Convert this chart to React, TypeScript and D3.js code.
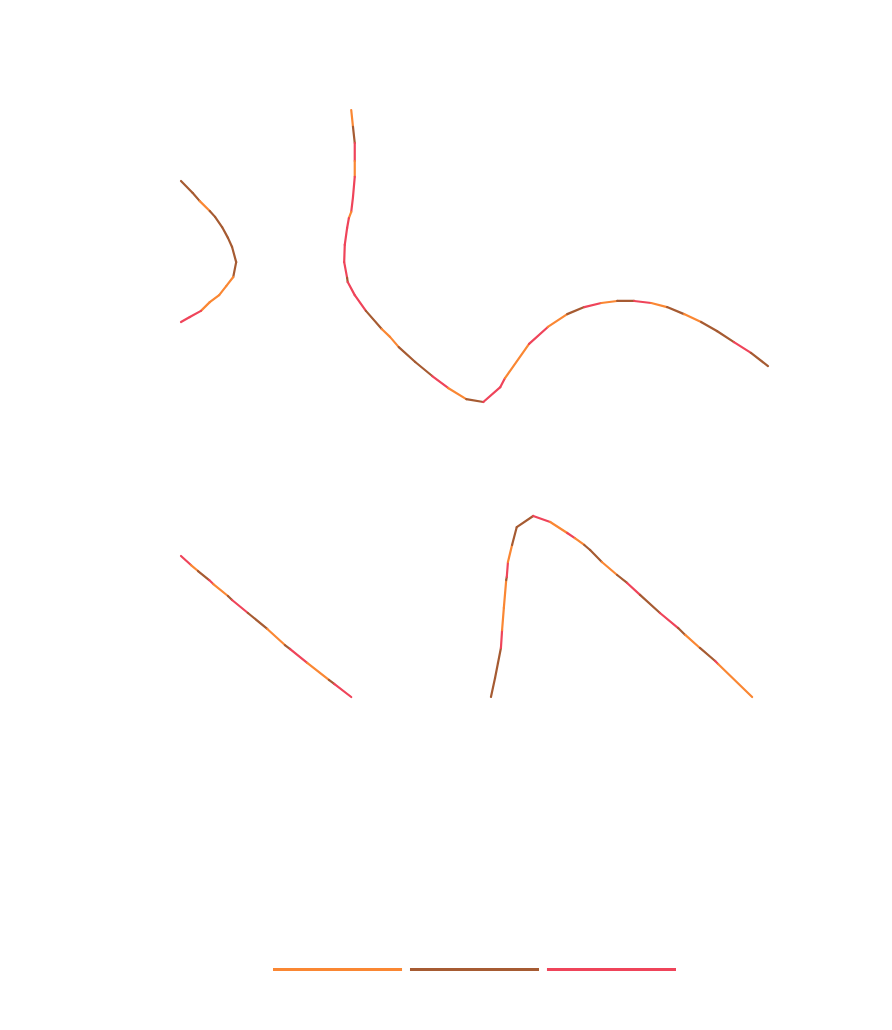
import React, { useEffect, useRef } from 'react'
import * as d3 from 'd3'

// series categories (segment colour groups)
const categories = ['A', 'B', 'C']
const colors = ['#fa8733', '#a65b32', '#ef445a']

// top row curves
const topLeftX = [0, 2.0, 3.2, 4.9, 5.8, 7.0, 8.0, 8.7, 9.4, 8.9, 7.7, 6.5, 4.9, 3.4, 1.5, 0]
const topLeftY = [75.7, 71.6, 68.8, 65.4, 63.4, 59.9, 56.2, 53.1, 47.9, 42.8, 39.7, 36.6, 34.2, 31.2, 29.1, 27.4]
const topLeftCat = ['B', 'B', 'A', 'B', 'B', 'B', 'B', 'B', 'B', 'A', 'A', 'A', 'A', 'C', 'C']

const topRightX = [29.0, 29.3, 29.6, 29.6, 29.6, 29.3, 29.0, 28.6, 28.3, 27.9, 27.8, 28.3, 28.4, 29.6, 31.5, 34.2, 35.6, 37.1, 39.9, 42.8, 45.5, 48.6, 51.5, 54.4, 55.2, 59.3, 62.5, 65.8, 68.7, 71.6, 74.3, 77.2, 80.1, 82.8, 85.7, 88.6, 91.3, 94.2, 97.1, 100]
const topRightY = [100, 94.2, 88.7, 82.5, 77.1, 70.2, 65.1, 63.0, 59.6, 53.8, 47.9, 42.5, 41.1, 36.6, 31.2, 25.0, 22.3, 18.8, 13.7, 8.9, 4.8, 1.0, 0, 5.1, 8.2, 19.9, 25.7, 30.1, 32.5, 33.9, 34.6, 34.6, 33.9, 32.5, 30.1, 27.4, 24.3, 20.5, 16.8, 12.3]
const topRightCat = ['A', 'B', 'C', 'A', 'C', 'C', 'A', 'C', 'C', 'C', 'C', 'B', 'C', 'C', 'B', 'A', 'A', 'B', 'B', 'C', 'A', 'B', 'C', 'C', 'A', 'C', 'A', 'B', 'C', 'A', 'B', 'C', 'A', 'B', 'A', 'B', 'B', 'C', 'B']

// bottom row curves
const botLeftX = [0, 1.7, 2.9, 4.8, 5.5, 8.0, 8.7, 11.4, 14.7, 17.7, 18.6, 21.5, 25.2, 26.1, 29.0]
const botLeftY = [77.9, 72.9, 69.6, 64.6, 62.4, 55.8, 53.6, 46.4, 37.6, 28.7, 26.5, 18.8, 9.4, 7.2, 0]
const botLeftCat = ['C', 'A', 'B', 'C', 'A', 'B', 'C', 'B', 'A', 'B', 'C', 'A', 'B', 'C']

const botRightX = [52.8, 53.5, 54.0, 54.5, 54.7, 55.0, 55.4, 55.5, 55.7, 56.4, 57.2, 60.0, 62.9, 65.8, 67.1, 68.7, 69.7, 71.7, 74.3, 76.0, 78.2, 81.6, 84.7, 85.9, 88.4, 91.0, 91.5, 97.3]
const botRightY = [0, 10.5, 18.8, 27.1, 37.0, 49.2, 64.6, 66.3, 74.6, 84.0, 93.9, 100, 96.7, 90.6, 87.8, 84.0, 81.2, 74.6, 67.4, 63.0, 56.4, 46.4, 38.1, 34.3, 27.1, 19.9, 18.2, 0]
const botRightCat = ['B', 'B', 'B', 'C', 'A', 'A', 'B', 'C', 'A', 'B', 'B', 'C', 'A', 'C', 'A', 'B', 'B', 'A', 'B', 'C', 'B', 'C', 'B', 'A', 'B', 'C', 'A']

export default function App() {
  const svgRef = useRef<SVGSVGElement | null>(null)

  useEffect(() => {
    if (!svgRef.current) return
    const svg = d3.select(svgRef.current)
    svg.selectAll('*').remove()

    const color = d3.scaleOrdinal<string, string>().domain(categories).range(colors)

    const x = d3.scaleLinear().domain([0, 100]).range([181, 768])
    const yTop = d3.scaleLinear().domain([0, 100]).range([402, 110])
    const yBot = d3.scaleLinear().domain([0, 100]).range([697, 516])

    const curves = [
      { xs: topLeftX, ys: topLeftY, cats: topLeftCat, y: yTop },
      { xs: topRightX, ys: topRightY, cats: topRightCat, y: yTop },
      { xs: botLeftX, ys: botLeftY, cats: botLeftCat, y: yBot },
      { xs: botRightX, ys: botRightY, cats: botRightCat, y: yBot }
    ]

    const line = d3.line<[number, number]>()

    curves.forEach(c => {
      const segs = c.cats.map((cat, i) => ({
        cat,
        pts: [
          [x(c.xs[i]), c.y(c.ys[i])],
          [x(c.xs[i + 1]), c.y(c.ys[i + 1])]
        ] as [number, number][]
      }))
      svg.append('g')
        .selectAll('path')
        .data(segs)
        .enter()
        .append('path')
        .attr('d', d => line(d.pts))
        .attr('fill', 'none')
        .attr('stroke', d => color(d.cat))
        .attr('stroke-width', 2.2)
        .attr('stroke-linecap', 'round')
    })

    // legend: three colour swatches, no labels
    const legendX = d3.scaleBand().domain(categories).range([273, 676]).paddingInner(0.058)
    svg.append('g')
      .selectAll('line')
      .data(categories)
      .enter()
      .append('line')
      .attr('x1', d => legendX(d) || 0)
      .attr('x2', d => (legendX(d) || 0) + legendX.bandwidth())
      .attr('y1', 969.5)
      .attr('y2', 969.5)
      .attr('stroke', d => color(d))
      .attr('stroke-width', 2.8)
  }, [])

  return (
    <svg
      ref={svgRef}
      width={892}
      height={1030}
      style={{ position: 'absolute', left: 0, top: 0, background: '#fff' }}
    />
  )
}
